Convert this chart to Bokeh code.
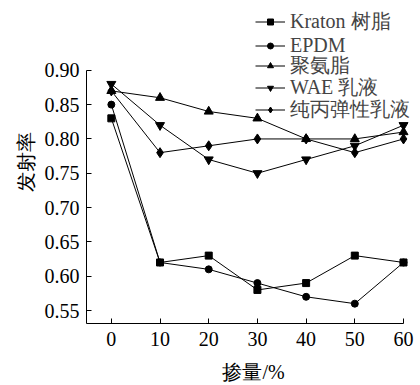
from bokeh.plotting import figure
from bokeh.models import Range1d, FixedTicker, Legend, LegendItem, NumeralTickFormatter
from bokeh.embed import file_html
from bokeh.resources import INLINE

x = [0, 10, 20, 30, 40, 50, 60]
kraton = [0.83, 0.62, 0.63, 0.58, 0.59, 0.63, 0.62]
epdm = [0.85, 0.62, 0.61, 0.59, 0.57, 0.56, 0.62]
pu = [0.87, 0.86, 0.84, 0.83, 0.80, 0.80, 0.81]
wae = [0.88, 0.82, 0.77, 0.75, 0.77, 0.79, 0.82]
acrylic = [0.87, 0.78, 0.79, 0.80, 0.80, 0.78, 0.80]
names = ["Kraton 树脂", "EPDM", "聚氨脂", "WAE 乳液", "纯丙弹性乳液"]
x_ticks = [0, 10, 20, 30, 40, 50, 60]
y_ticks = [0.55, 0.60, 0.65, 0.70, 0.75, 0.80, 0.85, 0.90]

FONT = "Liberation Serif"

X0, X_AXIS_END = -5.1, 60
Y0, Y_AXIS_END = 0.5311, 0.90
p = figure(width=420, height=385, output_backend="svg", toolbar_location=None,
           x_range=Range1d(X0, 63.49), y_range=Range1d(Y0, 1.0017),
           min_border_left=86, min_border_right=0, min_border_top=0, min_border_bottom=61,
           outline_line_color=None)
p.xgrid.visible = False
p.ygrid.visible = False

for ax in (p.xaxis[0], p.yaxis[0]):
    ax.major_label_text_font = FONT
    ax.major_label_text_font_size = "20px"
    ax.major_label_text_color = "black"
    ax.axis_label_text_font = FONT
    ax.axis_label_text_font_size = "20px"
    ax.axis_label_text_font_style = "normal"
    ax.axis_label_text_color = "black"
    ax.axis_line_color = "black"
    ax.major_tick_line_color = "black"
    ax.major_tick_in = 5
    ax.major_tick_out = 0
    ax.minor_tick_line_color = None

p.xaxis.bounds = (X0, X_AXIS_END)
p.yaxis.bounds = (Y0, Y_AXIS_END)
p.xaxis.ticker = FixedTicker(ticks=x_ticks)
p.yaxis.ticker = FixedTicker(ticks=y_ticks)
p.yaxis.formatter = NumeralTickFormatter(format="0.00")
p.xaxis.axis_label = "掺量/%"
p.yaxis.axis_label = "发射率"
p.xaxis.major_label_standoff = 8
p.yaxis.major_label_standoff = 7
p.xaxis.axis_label_standoff = 12
p.yaxis.axis_label_standoff = 5

series = [kraton, epdm, pu, wae, acrylic]
markers = ["square", "circle", "triangle", "inverted_triangle", "diamond"]
sizes = [7, 7, 9, 9, 10]
legend_y = [288, 266, 244, 222, 200]  # legend row offsets (pixels) from frame bottom
for ys, name, mk, sz, ly in zip(series, names, markers, sizes, legend_y):
    l = p.line(x, ys, line_color="black", line_width=1)
    s = p.scatter(x, ys, marker=mk, size=sz, fill_color="black", line_color="black")
    lg = Legend(items=[LegendItem(label=name, renderers=[l, s])], location=(169, ly),
                orientation="vertical", glyph_width=30, glyph_height=15, label_height=15,
                spacing=0, padding=0, margin=0, label_standoff=5,
                label_text_font=FONT, label_text_font_size="20px",
                border_line_color=None, background_fill_alpha=0)
    p.add_layout(lg, "center")

open("out.html", "w").write(file_html(p, INLINE))
